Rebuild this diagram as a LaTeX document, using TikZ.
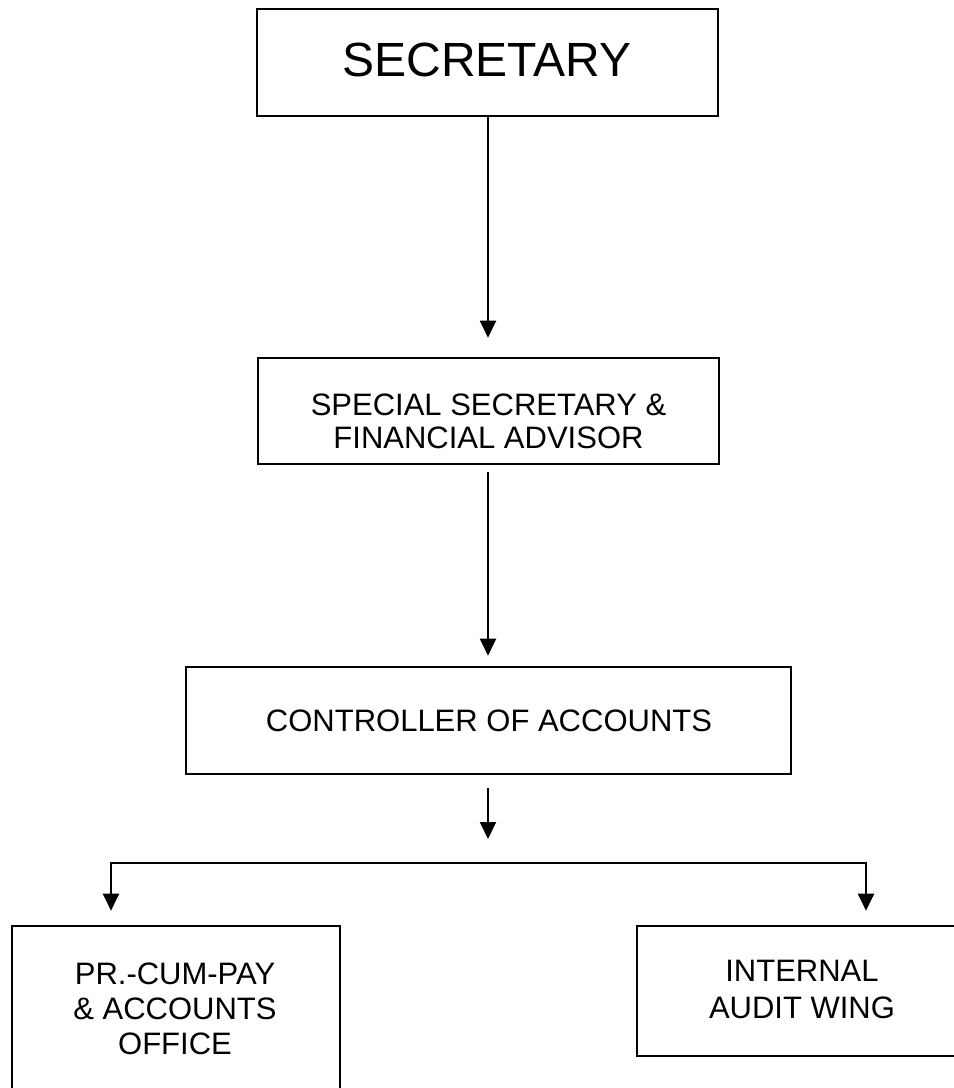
\documentclass[tikz,border=0pt]{standalone}
\usepackage{fontspec}
\setmainfont{Liberation Sans}
\usetikzlibrary{arrows.meta,calc}
\begin{document}
\begin{tikzpicture}[x=1pt,y=-1pt,
  box/.style={draw, line width=2.6pt, inner sep=0pt, fill=none},
  txt/.style={align=center, inner sep=0pt, font=\fontsize{31}{35}\selectfont},
  conn/.style={line width=2pt},
  tip/.style={-{Triangle[width=16pt,length=17pt]}}
]
\fill[white] (0,0) rectangle (954,1088);
\clip (0,0) rectangle (954,1088);

% boxes
\node[box, minimum width=461pt, minimum height=107pt] (sec)  at (487.5,62.5) {};
\node[box, minimum width=461pt, minimum height=106pt] (ssfa) at (488.5,411) {};
\node[box, minimum width=605pt, minimum height=107pt] (coa)  at (488.5,720.5) {};
\node[box, minimum width=328pt, minimum height=166pt] (pcp)  at (176,1009) {};
\node[box, minimum width=330pt, minimum height=130pt] (iaw)  at (802,991) {};

% texts
\node[txt, font=\fontsize{48}{56}\selectfont] (secT) at (487,60) {SECRETARY};
\node[txt, font=\fontsize{31}{33}\selectfont] (ssfaT) at (488.5,421) {SPECIAL SECRETARY \&\\FINANCIAL ADVISOR};
\node[txt] (coaT) at (489,721) {CONTROLLER OF ACCOUNTS};
\node[txt, font=\fontsize{31}{35}\selectfont] (pcpT) at (175,1009) {PR.-CUM-PAY\\\& ACCOUNTS\\OFFICE};
\node[txt, font=\fontsize{31}{37}\selectfont] (iawT) at (802,989.5) {INTERNAL\\AUDIT WING};

% connectors
\coordinate (split) at (488,863);
\coordinate (bl) at (111,863);
\coordinate (br) at (866,863);

\draw[conn, tip, shorten >=19pt] (sec.south -| split) -- (ssfa.north -| split);
\draw[conn, tip, shorten <=7pt, shorten >=10pt] (ssfa.south -| split) -- (coa.north -| split);
\draw[conn, tip, shorten <=13pt, shorten >=24pt] (coa.south -| split) -- (split);
\draw[conn, {Triangle[width=16pt,length=17pt]}-{Triangle[width=16pt,length=17pt]}, shorten <=14pt, shorten >=14pt]
  (pcp.north -| bl) -- (bl) -- (br) -- (iaw.north -| br);
\end{tikzpicture}
\end{document}
